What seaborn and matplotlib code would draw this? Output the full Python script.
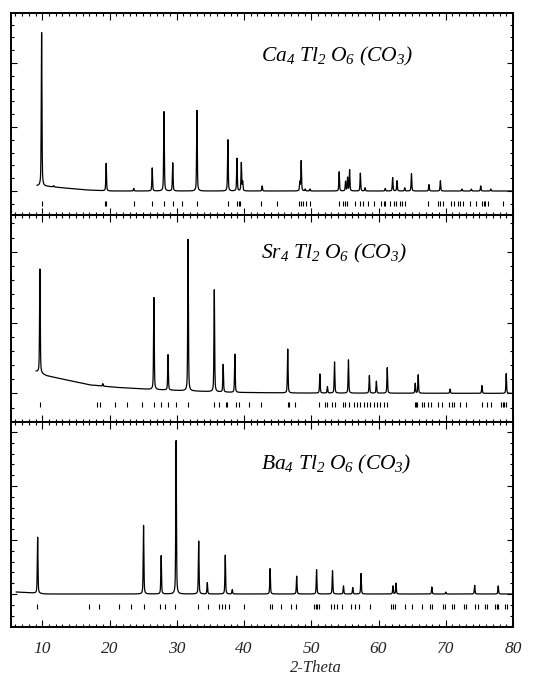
import numpy as np
import pandas as pd
import matplotlib
matplotlib.use("Agg")
import matplotlib.pyplot as plt
from matplotlib.ticker import MultipleLocator, NullFormatter
import seaborn as sns

# ---------------- data ----------------
# intensities in units of one major y-tick above the panel baseline
ca_label = r"$Ca_4\ Tl_2\ O_6\ (CO_3)$"
ca_start = 9.2
ca_peak_pos = [9.9, 11.7, 19.5, 23.6, 26.35, 28.1, 29.4, 33.0, 37.6, 38.95, 39.6, 39.8,
               42.7, 48.3, 48.5, 49.1, 49.8, 54.15, 55.1, 55.4, 55.7, 57.3, 58.0, 61.0,
               62.1, 62.75, 63.9, 64.9, 67.5, 69.2, 72.4, 73.8, 75.2, 76.7]
ca_peak_int = [2.40, 0.02, 0.43, 0.04, 0.36, 1.24, 0.44, 1.26, 0.80, 0.51, 0.44, 0.14,
               0.08, 0.14, 0.47, 0.03, 0.03, 0.30, 0.15, 0.21, 0.33, 0.28, 0.05, 0.04,
               0.21, 0.16, 0.05, 0.27, 0.10, 0.16, 0.03, 0.03, 0.08, 0.03]
ca_bg_pos = [9.2, 11.0, 13.0, 16.6, 20.0, 80.0]
ca_bg_int = [0.08, 0.07, 0.05, 0.016, 0.0, 0.0]
ca_refl = [9.9, 19.33, 19.53, 23.63, 26.35, 28.07, 29.5, 30.79, 33.01, 37.6, 38.89, 39.19,
           39.38, 42.59, 44.91, 48.17, 48.42, 48.77, 49.16, 49.75, 54.15, 54.74, 55.09,
           55.33, 56.47, 57.21, 57.65, 58.44, 59.38, 60.42, 60.86, 61.01, 61.75, 62.25,
           62.64, 63.14, 63.48, 63.88, 67.43, 68.81, 69.21, 69.56, 70.79, 71.23, 71.78,
           72.12, 72.52, 73.6, 74.44, 75.33, 75.63, 75.88, 76.32, 78.54]

sr_label = r"$Sr_4\ Tl_2\ O_6\ (CO_3)$"
sr_start = 9.06
sr_peak_pos = [9.65, 19.0, 26.6, 28.7, 31.68, 35.58, 36.9, 38.64, 46.5, 51.28, 52.4,
               53.46, 55.53, 58.64, 59.68, 61.3, 65.46, 65.9, 70.64, 75.38, 78.99]
sr_peak_int = [1.47, 0.035, 1.30, 0.50, 2.14, 1.44, 0.39, 0.54, 0.62, 0.27, 0.09,
               0.44, 0.47, 0.25, 0.17, 0.36, 0.14, 0.26, 0.06, 0.11, 0.28]
sr_bg_pos = [9.06, 10.64, 13.6, 17.06, 21.0, 25.95, 30.9, 38.3, 48.2, 80.0]
sr_bg_int = [0.31, 0.25, 0.19, 0.12, 0.085, 0.057, 0.038, 0.014, 0.005, 0.0]
sr_refl = [9.65, 18.2, 18.54, 20.86, 22.64, 24.86, 26.59, 27.68, 28.72, 29.9, 31.68,
           35.58, 36.32, 37.31, 37.51, 38.79, 39.19, 40.67, 42.59, 46.49, 46.69, 47.53,
           51.14, 51.98, 52.37, 53.11, 53.46, 54.69, 55.09, 55.63, 56.32, 56.81, 57.31,
           57.8, 58.3, 58.79, 59.28, 59.78, 60.17, 60.77, 61.26, 65.46, 65.6, 65.75,
           66.44, 66.79, 67.33, 67.78, 68.91, 69.41, 70.49, 70.89, 71.28, 72.07, 72.96,
           75.33, 76.07, 76.67, 78.2, 78.44, 78.69, 78.94]

ba_label = r"$Ba_4\ Tl_2\ O_6\ (CO_3)$"
ba_start = 6.1
ba_peak_pos = [9.31, 25.06, 27.68, 29.9, 33.26, 34.54, 37.21, 38.25, 43.88, 47.83,
               50.79, 53.16, 54.79, 56.17, 57.4, 62.15, 62.6, 67.93, 70.0, 74.3, 77.8]
ba_peak_int = [1.04, 1.27, 0.71, 2.84, 0.98, 0.21, 0.72, 0.08, 0.47, 0.33,
               0.45, 0.43, 0.15, 0.12, 0.38, 0.15, 0.20, 0.13, 0.035, 0.16, 0.15]
ba_bg_pos = [6.1, 8.5, 10.5, 80.0]
ba_bg_int = [0.037, 0.02, 0.0, 0.0]
ba_refl = [9.16, 16.96, 18.4, 21.41, 23.23, 25.11, 27.53, 28.27, 29.8, 33.11, 34.59,
           36.32, 36.72, 37.21, 37.7, 39.93, 43.83, 44.12, 45.46, 47.04, 47.68, 50.4,
           50.64, 50.89, 51.14, 53.01, 53.36, 53.85, 54.59, 55.98, 56.47, 57.06, 58.79,
           61.9, 62.15, 62.4, 63.88, 64.96, 66.44, 67.68, 67.93, 69.56, 69.9, 70.99,
           71.28, 72.72, 72.96, 74.35, 74.84, 75.83, 76.17, 77.31, 77.56, 77.8, 78.79,
           79.04]

x_ticks = [10, 20, 30, 40, 50, 60, 70, 80]
x_label = "2-Theta"

# ---------------- style ----------------
sns.set_style("ticks")
plt.rcParams["font.family"] = ["Liberation Serif", "DejaVu Serif"]
plt.rcParams["font.style"] = "italic"
plt.rcParams["mathtext.fontset"] = "custom"
plt.rcParams["mathtext.it"] = "Liberation Serif:italic"
plt.rcParams["mathtext.rm"] = "Liberation Serif:italic"
plt.rcParams["mathtext.default"] = "it"

W, H = 533, 686
fig = plt.figure(figsize=(W / 100, H / 100), dpi=100)
fig.patch.set_facecolor("white")

def rect(top_px, bot_px, left_px=11, right_px=513):
    return [left_px / W, 1 - bot_px / H, (right_px - left_px) / W, (bot_px - top_px) / H]

# (top px, bottom px, ylim, reflection-tick centre, half length, label y frac)
panels = [
    dict(r=rect(13.3, 215), ylim=(-0.375, 2.777), rc=-0.19, rh=0.04, ly=0.759,
         pos=ca_peak_pos, inten=ca_peak_int, bgx=ca_bg_pos, bgy=ca_bg_int,
         start=ca_start, refl=ca_refl, label=ca_label),
    dict(r=rect(215, 421.7), ylim=(-0.40, 2.52), rc=-0.16, rh=0.036, ly=0.792,
         pos=sr_peak_pos, inten=sr_peak_int, bgx=sr_bg_pos, bgy=sr_bg_int,
         start=sr_start, refl=sr_refl, label=sr_label),
    dict(r=rect(421.7, 627), ylim=(-0.611, 3.19), rc=-0.235, rh=0.045, ly=0.765,
         pos=ba_peak_pos, inten=ba_peak_int, bgx=ba_bg_pos, bgy=ba_bg_int,
         start=ba_start, refl=ba_refl, label=ba_label),
]

def pattern(start, pos, inten, bgx, bgy, fwhm=0.12):
    x = np.arange(start, 80.0, 0.01)
    y = np.interp(x, bgx, bgy)
    for p, h in zip(pos, inten):
        d = (x - p) / (fwhm / 2)
        y = y + h * (0.5 / (1 + d ** 2) + 0.5 * np.exp(-np.log(2) * d ** 2))
    return pd.DataFrame({"two_theta": x, "intensity": y})

axes = []
for i, p in enumerate(panels):
    ax = fig.add_axes(p["r"])
    axes.append(ax)
    df = pattern(p["start"], p["pos"], p["inten"], p["bgx"], p["bgy"])
    sns.lineplot(data=df, x="two_theta", y="intensity", ax=ax, color="black",
                 linewidth=0.9, estimator=None, sort=False)
    ax.vlines(p["refl"], p["rc"] - p["rh"], p["rc"] + p["rh"], color="black", linewidth=0.8)
    ax.set_xlim(5.35, 80.0)
    ax.set_ylim(*p["ylim"])
    ax.set_xlabel("")
    ax.set_ylabel("")
    ax.xaxis.set_major_locator(MultipleLocator(10))
    ax.xaxis.set_minor_locator(MultipleLocator(1))
    ax.yaxis.set_major_locator(MultipleLocator(1))
    ax.yaxis.set_minor_locator(MultipleLocator(0.2))
    ax.tick_params(axis="both", which="both", direction="in", top=True, right=True,
                   color="black", width=0.8)
    ax.tick_params(axis="x", which="major", length=5)
    ax.tick_params(axis="x", which="minor", length=2.5)
    ax.tick_params(axis="y", which="major", length=4)
    ax.tick_params(axis="y", which="minor", length=2)
    ax.yaxis.set_major_formatter(NullFormatter())
    for s in ax.spines.values():
        s.set_linewidth(1.4)
        s.set_color("black")
    ax.text(0.499, p["ly"], p["label"], transform=ax.transAxes, ha="left",
            va="baseline", fontsize=15.5, color="black")
    if i < 2:
        ax.xaxis.set_major_formatter(NullFormatter())
    else:
        ax.set_xticks(x_ticks)
        ax.set_xticklabels([str(t) for t in x_ticks], fontsize=12.5, style="italic")
        ax.tick_params(axis="x", which="major", pad=10)
        ax.set_xlabel(x_label, fontsize=12, style="italic")
        ax.xaxis.set_label_coords(0.607, -0.16)
        ax.xaxis.label.set_va("top")

fig.savefig("out.png", dpi=100, facecolor="white")
